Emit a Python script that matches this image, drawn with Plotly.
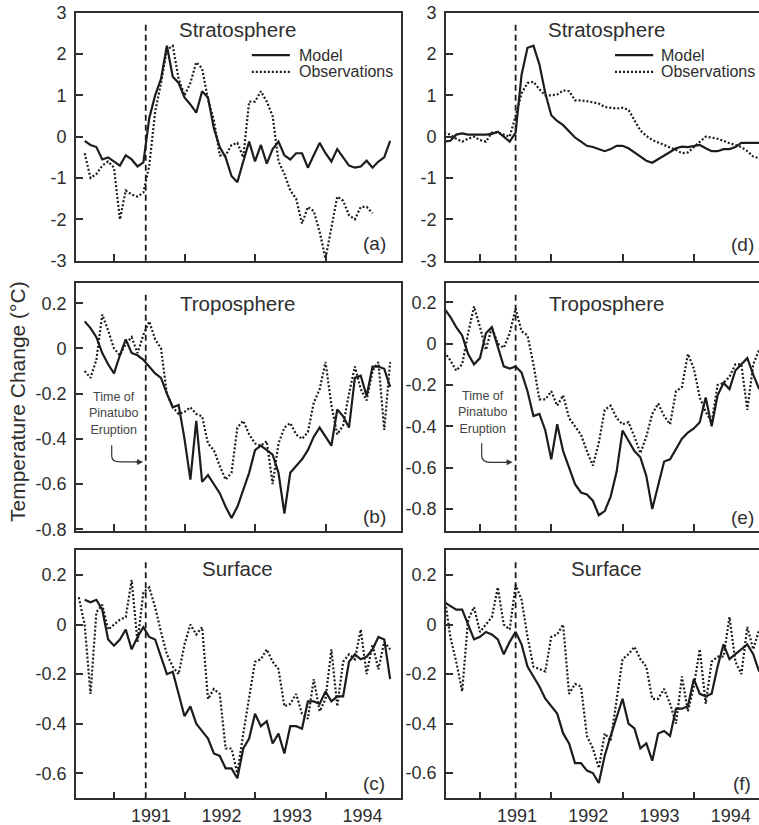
import plotly.graph_objects as go

W, H = 759, 825
FONT = "Liberation Sans, Arial, Helvetica, sans-serif"
INK = "#1c1c1c"
AX = "#2e2e2e"

# months relative to January 1991 (0 = Jan 1991)
MONTHS = list(range(-6, 48))
YEAR_LABELS = ["1991", "1992", "1993", "1994"]
YEAR_START = [0, 12, 24, 36]
ERUPTION_LEFT = 5.4
ERUPTION_RIGHT = 6.0

N = None
# ---- Stratosphere, left (a)
A_MODEL = [N, -0.1, -0.2, -0.25, -0.55, -0.5, -0.6, -0.7, -0.45, -0.55, -0.72, -0.62, 0.45, 1.0, 1.4, 2.2, 1.45,
           1.3, 0.95, 0.78, 0.58, 1.1, 0.95, 0.2, -0.25, -0.5, -0.95, -1.1, -0.6, -0.12, -0.6, -0.2, -0.65, -0.3,
           -0.12, -0.45, -0.55, -0.4, -0.4, -0.75, -0.45, -0.15, -0.4, -0.6, -0.3, -0.5, -0.7, -0.75, -0.72, -0.58,
           -0.75, -0.6, -0.5, -0.1]
A_OBS = [N, -0.4, -1.0, -0.9, -0.7, -0.6, -0.75, -2.0, -1.3, -1.4, -1.45, -1.35, -0.7, 0.6, 1.3, 2.1, 2.2, 1.4,
         1.0, 1.3, 1.8, 1.65, 0.9, 0.4, -0.45, -0.45, -0.2, -0.15, -0.5, 0.85, 0.85, 1.1, 0.85, 0.5, -0.6, -0.9,
         -1.3, -1.5, -2.1, -1.7, -1.8, -2.3, -2.95, -2.2, -1.45, -1.55, -1.9, -2.0, -1.7, -1.7, -1.85, N, N, N]
# ---- Troposphere, left (b)
B_MODEL = [N, 0.12, 0.09, 0.05, -0.02, -0.07, -0.11, -0.03, 0.04, -0.02, -0.03, -0.05, -0.08, -0.11, -0.13, -0.2,
           -0.26, -0.25, -0.4, -0.58, -0.32, -0.59, -0.56, -0.6, -0.64, -0.7, -0.75, -0.7, -0.62, -0.55, -0.45,
           -0.43, -0.45, -0.47, -0.55, -0.73, -0.55, -0.52, -0.49, -0.45, -0.39, -0.35, -0.39, -0.43, -0.27, -0.3,
           -0.35, -0.13, -0.12, -0.21, -0.08, -0.08, -0.09, -0.17]
B_OBS = [N, -0.1, -0.13, -0.05, 0.15, 0.08, 0.0, -0.03, 0.02, 0.05, -0.02, 0.06, 0.12, 0.04, 0.0, -0.2, -0.26,
         -0.29, -0.28, -0.26, -0.29, -0.3, -0.42, -0.45, -0.52, -0.58, -0.55, -0.35, -0.32, -0.38, -0.42, -0.43,
         -0.41, -0.6, -0.42, -0.35, -0.33, -0.38, -0.4, -0.37, -0.24, -0.18, -0.06, -0.25, -0.38, -0.34, -0.2,
         -0.08, -0.18, -0.23, -0.1, -0.06, -0.36, -0.06]
# ---- Surface, left (c)
C_MODEL = [N, 0.1, 0.09, 0.1, 0.06, -0.06, -0.085, -0.06, -0.02, -0.1, -0.05, -0.01, -0.05, -0.06, -0.13, -0.2,
           -0.19, -0.28, -0.37, -0.33, -0.4, -0.43, -0.46, -0.52, -0.53, -0.58, -0.58, -0.62, -0.5, -0.46, -0.36,
           -0.41, -0.39, -0.48, -0.44, -0.52, -0.41, -0.41, -0.42, -0.31, -0.31, -0.32, -0.27, -0.31, -0.29, -0.29,
           -0.15, -0.12, -0.14, -0.13, -0.1, -0.05, -0.06, -0.22]
C_OBS = [0.11, 0.0, -0.28, 0.05, 0.08, -0.02, 0.0, 0.02, 0.03, 0.18, -0.07, 0.13, 0.15, 0.07, -0.03, -0.12, -0.17,
         -0.2, -0.08, 0.0, -0.04, -0.01, -0.3, -0.26, -0.28, -0.5, -0.5, -0.6, -0.44, -0.3, -0.15, -0.14, -0.1,
         -0.15, -0.18, -0.33, -0.32, -0.28, -0.36, -0.38, -0.22, -0.35, -0.3, -0.1, -0.33, -0.15, -0.12, -0.14,
         -0.02, -0.2, -0.08, -0.18, -0.07, -0.1]
# ---- Stratosphere, right (d)
D_MODEL = [-0.12, -0.1, 0.05, 0.08, 0.05, 0.05, 0.05, 0.05, 0.07, 0.12, 0.0, -0.12, 0.1, 1.5, 2.15, 2.2, 1.75,
           1.05, 0.52, 0.38, 0.28, 0.12, -0.02, -0.12, -0.22, -0.25, -0.3, -0.35, -0.3, -0.22, -0.22, -0.28, -0.38,
           -0.48, -0.58, -0.63, -0.55, -0.45, -0.37, -0.28, -0.24, -0.25, -0.22, -0.2, -0.28, -0.35, -0.35, -0.3,
           -0.3, -0.25, -0.15, -0.15, -0.15, -0.15]
D_OBS = [0.1, 0.05, -0.05, -0.12, -0.05, 0.0, -0.08, -0.12, 0.1, 0.1, 0.05, 0.0, 0.5, 1.05, 1.3, 1.33, 1.15, 1.0,
         1.0, 1.02, 1.12, 1.1, 0.88, 0.88, 0.86, 0.83, 0.8, 0.72, 0.7, 0.68, 0.7, 0.65, 0.4, 0.15, 0.02, -0.08,
         -0.14, -0.2, -0.25, -0.32, -0.4, -0.38, -0.25, -0.12, 0.0, -0.02, -0.05, -0.1, -0.16, -0.2, -0.25, -0.35,
         -0.48, -0.52]
# ---- Troposphere, right (e)
E_MODEL = [0.17, 0.13, 0.08, 0.04, -0.05, -0.1, -0.07, 0.05, 0.08, -0.02, -0.11, -0.12, -0.11, -0.14, -0.23, -0.35,
           -0.34, -0.42, -0.56, -0.39, -0.52, -0.6, -0.68, -0.72, -0.73, -0.76, -0.83, -0.81, -0.74, -0.62, -0.42,
           -0.47, -0.52, -0.55, -0.64, -0.8, -0.68, -0.57, -0.56, -0.51, -0.46, -0.43, -0.41, -0.38, -0.26, -0.4,
           -0.25, -0.19, -0.22, -0.13, -0.1, -0.07, -0.15, -0.22]
E_OBS = [-0.04, -0.08, -0.13, -0.1, 0.05, 0.18, 0.08, -0.03, 0.08, 0.0, -0.02, 0.05, 0.17, 0.06, 0.04, -0.1, -0.27,
         -0.27, -0.23, -0.3, -0.25, -0.36, -0.4, -0.44, -0.52, -0.59, -0.48, -0.32, -0.3, -0.36, -0.39, -0.38,
         -0.45, -0.53, -0.45, -0.34, -0.29, -0.35, -0.39, -0.23, -0.21, -0.05, -0.12, -0.26, -0.33, -0.38, -0.2,
         -0.19, -0.16, -0.1, -0.1, -0.32, -0.1, -0.03]
# ---- Surface, right (f)
F_MODEL = [0.09, 0.075, 0.06, 0.06, 0.0, -0.06, -0.05, -0.03, -0.04, -0.06, -0.12, -0.07, -0.03, -0.08, -0.17,
           -0.21, -0.25, -0.3, -0.33, -0.36, -0.44, -0.48, -0.56, -0.56, -0.59, -0.6, -0.64, -0.53, -0.45, -0.37,
           -0.3, -0.4, -0.42, -0.5, -0.48, -0.55, -0.44, -0.43, -0.45, -0.34, -0.34, -0.33, -0.22, -0.28, -0.29,
           -0.28, -0.17, -0.08, -0.14, -0.12, -0.1, -0.08, -0.12, -0.19]
F_OBS = [0.12, -0.05, -0.15, -0.27, 0.02, 0.07, -0.03, 0.0, 0.03, 0.15, 0.0, -0.02, 0.16, 0.1, -0.05, -0.17, -0.18,
         -0.19, -0.05, -0.04, 0.0, -0.28, -0.24, -0.25, -0.45, -0.5, -0.58, -0.44, -0.47, -0.3, -0.14, -0.12, -0.09,
         -0.14, -0.17, -0.3, -0.3, -0.26, -0.32, -0.4, -0.21, -0.35, -0.25, -0.1, -0.32, -0.15, -0.13, -0.13, 0.03,
         -0.15, -0.2, -0.01, -0.1, -0.02]

STRAT_TICKS = [-3, -2, -1, 0, 1, 2, 3]
STRAT_TEXT = ["-3", "-2", "-1", "0", "1", "2", "3"]
TROP_TICKS = [-0.8, -0.6, -0.4, -0.2, 0, 0.2]
TROP_TEXT = ["-0.8", "-0.6", "-0.4", "-0.2", "0", "0.2"]
SURF_TICKS = [-0.6, -0.4, -0.2, 0, 0.2]
SURF_TEXT = ["-0.6", "-0.4", "-0.2", "0", "0.2"]


def fx(p):
    return p / W


def fy(p):
    return 1 - p / H


LEFT_DOM = [fx(76), fx(401)]
RIGHT_DOM = [fx(446), 1.0]
ROWS = [[fy(260.7), fy(12.7)], [fy(530.7), fy(282.7)], [fy(798.3), fy(550)]]
LEFT_RANGE = [-6.47, 48.85]
RIGHT_RANGE = [-5.72, 46.97]

PANELS = [
    # id, col, row, title, model, obs, yrange, ticks, text, letter, title_y, letter_y
    (1, 0, 0, "Stratosphere", A_MODEL, A_OBS, [-3, 3], STRAT_TICKS, STRAT_TEXT, "(a)", 0.934, 0.07),
    (2, 0, 1, "Troposphere", B_MODEL, B_OBS, [-0.806, 0.291], TROP_TICKS, TROP_TEXT, "(b)", 0.918, 0.058),
    (3, 0, 2, "Surface", C_MODEL, C_OBS, [-0.701, 0.301], SURF_TICKS, SURF_TEXT, "(c)", 0.927, 0.058),
    (4, 1, 0, "Stratosphere", D_MODEL, D_OBS, [-3, 3], STRAT_TICKS, STRAT_TEXT, "(d)", 0.934, 0.066),
    (5, 1, 1, "Troposphere", E_MODEL, E_OBS, [-0.905, 0.295], TROP_TICKS, TROP_TEXT, "(e)", 0.918, 0.055),
    (6, 1, 2, "Surface", F_MODEL, F_OBS, [-0.702, 0.301], SURF_TICKS, SURF_TEXT, "(f)", 0.927, 0.058),
]

fig = go.Figure()
layout = dict(
    template="none",
    width=W, height=H, margin=dict(l=0, r=0, t=0, b=0, pad=0), autosize=False,
    paper_bgcolor="white", plot_bgcolor="white",
    font=dict(family=FONT, color=AX, size=18),
    showlegend=False,
)
shapes = []
annotations = []

for pid, col, row, title, model, obs, yr, tv, tt, letter, ty, ly in PANELS:
    sfx = "" if pid == 1 else str(pid)
    xa, ya = "x" + sfx, "y" + sfx
    bottom = row == 2
    fig.add_trace(go.Scatter(x=MONTHS, y=obs, mode="lines", xaxis=xa, yaxis=ya,
                             line=dict(color=INK, width=2.2, dash="2px,2px")))
    fig.add_trace(go.Scatter(x=MONTHS, y=model, mode="lines", xaxis=xa, yaxis=ya,
                             line=dict(color=INK, width=2.2)))
    layout["xaxis" + sfx] = dict(
        domain=LEFT_DOM if col == 0 else RIGHT_DOM, anchor=ya, automargin=False,
        range=LEFT_RANGE if col == 0 else RIGHT_RANGE,
        showgrid=False, zeroline=False, showline=True, linecolor=AX, linewidth=1.6, mirror=True,
        tickmode="array", tickvals=YEAR_START, ticktext=YEAR_LABELS,
        ticks="inside", ticklen=7, tickwidth=1.5, tickcolor=AX,
        showticklabels=bottom, tickfont=dict(size=18, color=AX),
        ticklabelshift=37, ticklabelstandoff=0,
    )
    layout["yaxis" + sfx] = dict(
        domain=ROWS[row], anchor=xa, range=yr, automargin=False,
        showgrid=False, zeroline=False, showline=True, linecolor=AX, linewidth=1.6,
        mirror=(col == 0),
        tickmode="array", tickvals=tv, ticktext=tt, ticks="inside", ticklen=7, tickwidth=1.5,
        tickcolor=AX, tickfont=dict(size=18, color=AX), ticklabelstandoff=4,
    )
    erupt = ERUPTION_LEFT if col == 0 else ERUPTION_RIGHT
    shapes.append(dict(type="line", xref=xa, yref=ya + " domain", x0=erupt, x1=erupt, y0=0, y1=0.963,
                       line=dict(color=INK, width=1.8, dash="6px,4px")))
    annotations.append(dict(xref=xa + " domain", yref=ya + " domain", x=0.498 if col == 0 else 0.513, y=ty,
                            text=title, showarrow=False, xanchor="center", yanchor="middle",
                            font=dict(size=20.5, color=AX)))
    annotations.append(dict(xref=xa + " domain", yref=ya + " domain", x=0.917 if col == 0 else 0.947, y=ly,
                            text=letter, showarrow=False, xanchor="center", yanchor="middle",
                            font=dict(size=19, color=AX)))
    if row == 0:
        lx0, lx1, tx = (0.541, 0.658, 0.679) if col == 0 else (0.540, 0.662, 0.681)
        for yy, name, dash in [(0.829, "Model", "solid"), (0.761, "Observations", "2px,2px")]:
            shapes.append(dict(type="line", xref=xa + " domain", yref=ya + " domain", x0=lx0, x1=lx1,
                               y0=yy, y1=yy, line=dict(color=INK, width=2.2, dash=dash)))
            annotations.append(dict(xref=xa + " domain", yref=ya + " domain", x=tx, y=yy, text=name,
                                    showarrow=False, xanchor="left", yanchor="middle",
                                    font=dict(size=16, color=AX)))

# "Time of Pinatubo Eruption" notes with curved arrows
NOTE = "Time of<br>Pinatubo<br>Eruption"
annotations.append(dict(xref="x2", yref="y2", x=-0.17, y=-0.286, text=NOTE, showarrow=False,
                        xanchor="center", yanchor="middle", font=dict(size=12.5, color="#444")))
shapes.append(dict(type="path", xref="x2", yref="y2",
                   path="M -0.39,-0.428 L -0.39,-0.477 Q -0.39,-0.502 1.02,-0.502 L 4.5,-0.502",
                   line=dict(color="#333", width=1.2)))
annotations.append(dict(xref="x2", yref="y2", x=4.95, y=-0.502, ax=-9, ay=0, text="", showarrow=True,
                        arrowhead=2, arrowsize=1, arrowwidth=1.2, arrowcolor="#333"))
annotations.append(dict(xref="x5", yref="y5", x=0.45, y=-0.331, text=NOTE, showarrow=False,
                        xanchor="center", yanchor="middle", font=dict(size=12.5, color="#444")))
shapes.append(dict(type="path", xref="x5", yref="y5",
                   path="M 0.29,-0.482 L 0.29,-0.540 Q 0.29,-0.574 1.68,-0.574 L 5.1,-0.574",
                   line=dict(color="#333", width=1.2)))
annotations.append(dict(xref="x5", yref="y5", x=5.5, y=-0.574, ax=-9, ay=0, text="", showarrow=True,
                        arrowhead=2, arrowsize=1, arrowwidth=1.2, arrowcolor="#333"))

# shared y-axis title
annotations.append(dict(xref="paper", yref="paper", x=fx(17), y=fy(402), text="Temperature Change (°C)",
                        textangle=-90, showarrow=False, xanchor="center", yanchor="middle",
                        font=dict(size=21, color=AX)))

layout["shapes"] = shapes
layout["annotations"] = annotations
fig.update_layout(**layout)
fig.write_html("out.html")
